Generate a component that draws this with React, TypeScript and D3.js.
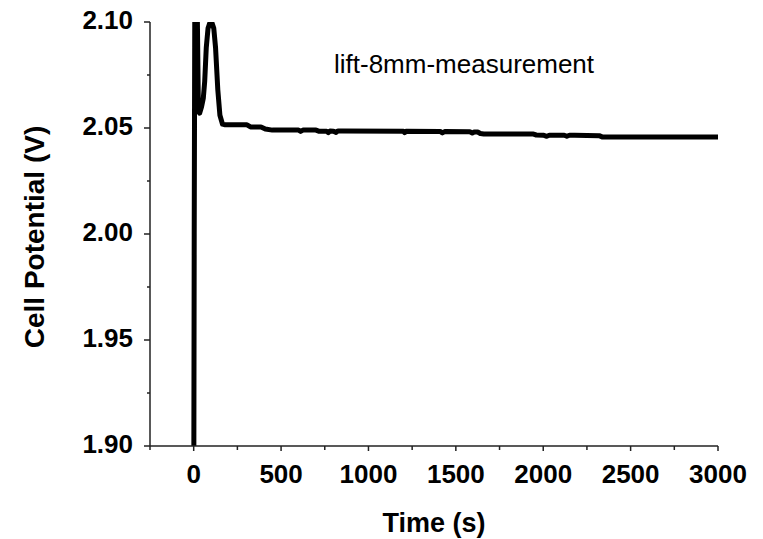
import React from "react";
import * as d3 from "d3";

const timeS = [0, 3, 7, 17, 27, 34, 45, 55, 63, 72, 82, 92, 105, 115, 125, 138, 150, 165, 180, 305, 325, 385, 410, 450, 600, 612, 625, 700, 715, 760, 770, 780, 800, 815, 825, 850, 1200, 1207, 1215, 1410, 1423, 1436, 1580, 1594, 1605, 1625, 1640, 1660, 1940, 1960, 2000, 2020, 2035, 2120, 2135, 2150, 2180, 2320, 2340, 3000];
const potentialV = [1.85, 2.0, 2.13, 2.13, 2.058, 2.057, 2.06, 2.064, 2.072, 2.088, 2.097, 2.0995, 2.0995, 2.097, 2.088, 2.068, 2.056, 2.0518, 2.0515, 2.0515, 2.0505, 2.0505, 2.0495, 2.049, 2.049, 2.0484, 2.049, 2.049, 2.0485, 2.0485, 2.0478, 2.0486, 2.0485, 2.0479, 2.0486, 2.0486, 2.0485, 2.0478, 2.0485, 2.0484, 2.0477, 2.0483, 2.0482, 2.0476, 2.0481, 2.0481, 2.0474, 2.0472, 2.0472, 2.0467, 2.0466, 2.0461, 2.0466, 2.0466, 2.0461, 2.0466, 2.0466, 2.0464, 2.0457, 2.0457];

const xMajorTicks = [0, 500, 1000, 1500, 2000, 2500, 3000];
const xMinorTicks = [-250, 250, 750, 1250, 1750, 2250, 2750];
const yMajorTicks = [1.9, 1.95, 2.0, 2.05, 2.1];
const yMinorTicks = [1.925, 1.975, 2.025, 2.075];

const xTitle = "Time (s)";
const yTitle = "Cell Potential (V)";
const annotation = "lift-8mm-measurement";

export default function App() {
  const W = 763, H = 539;
  const left = 150, right = 718, top = 22, bottom = 446;
  const x = d3.scaleLinear().domain([-250, 3000]).range([left, right]);
  const y = d3.scaleLinear().domain([1.9, 2.1]).range([bottom, top]);
  const data = timeS.map((t, i) => [t, potentialV[i]] as [number, number]);
  const line = d3.line<[number, number]>().x(d => x(d[0])).y(d => y(d[1]));
  const font = "Arial, 'Liberation Sans', Helvetica, sans-serif";
  const fmtY = d3.format(".2f");

  return (
    <svg width={W} height={H} style={{ position: "absolute", left: 0, top: 0, background: "#fff" }}>
      <defs>
        <clipPath id="plotclip">
          <rect x={left} y={top} width={right - left} height={bottom - top} />
        </clipPath>
      </defs>
      <rect x={0} y={0} width={W} height={H} fill="#fff" />
      <path d={line(data) || ""} fill="none" stroke="#000" strokeWidth={5} strokeLinejoin="round" strokeLinecap="round" clipPath="url(#plotclip)" />
      <line x1={left} x2={left} y1={top} y2={bottom} stroke="#222" strokeWidth={1.5} />
      <line x1={left} x2={right} y1={bottom} y2={bottom} stroke="#222" strokeWidth={1.5} />
      {yMajorTicks.map(v => (
        <g key={"ym" + v}>
          <line x1={left - 6} x2={left} y1={y(v)} y2={y(v)} stroke="#222" strokeWidth={1.5} />
          <text x={left - 17} y={y(v) + 7} textAnchor="end" fontFamily={font} fontWeight="bold" fontSize={26}>{fmtY(v)}</text>
        </g>
      ))}
      {yMinorTicks.map(v => (
        <line key={"yn" + v} x1={left - 3} x2={left} y1={y(v)} y2={y(v)} stroke="#222" strokeWidth={1.5} />
      ))}
      {xMajorTicks.map(v => (
        <g key={"xm" + v}>
          <line x1={x(v)} x2={x(v)} y1={bottom} y2={bottom + 5} stroke="#222" strokeWidth={1.5} />
          <text x={x(v)} y={bottom + 37} textAnchor="middle" fontFamily={font} fontWeight="bold" fontSize={26}>{v}</text>
        </g>
      ))}
      {xMinorTicks.map(v => (
        <line key={"xn" + v} x1={x(v)} x2={x(v)} y1={bottom} y2={bottom + 4} stroke="#222" strokeWidth={1.5} />
      ))}
      <text x={(left + right) / 2} y={532} textAnchor="middle" fontFamily={font} fontWeight="bold" fontSize={27}>{xTitle}</text>
      <text transform={`translate(44, ${237}) rotate(-90)`} textAnchor="middle" fontFamily={font} fontWeight="bold" fontSize={28}>{yTitle}</text>
      <text x={334} y={73} fontFamily={font} fontSize={26}>{annotation}</text>
    </svg>
  );
}
